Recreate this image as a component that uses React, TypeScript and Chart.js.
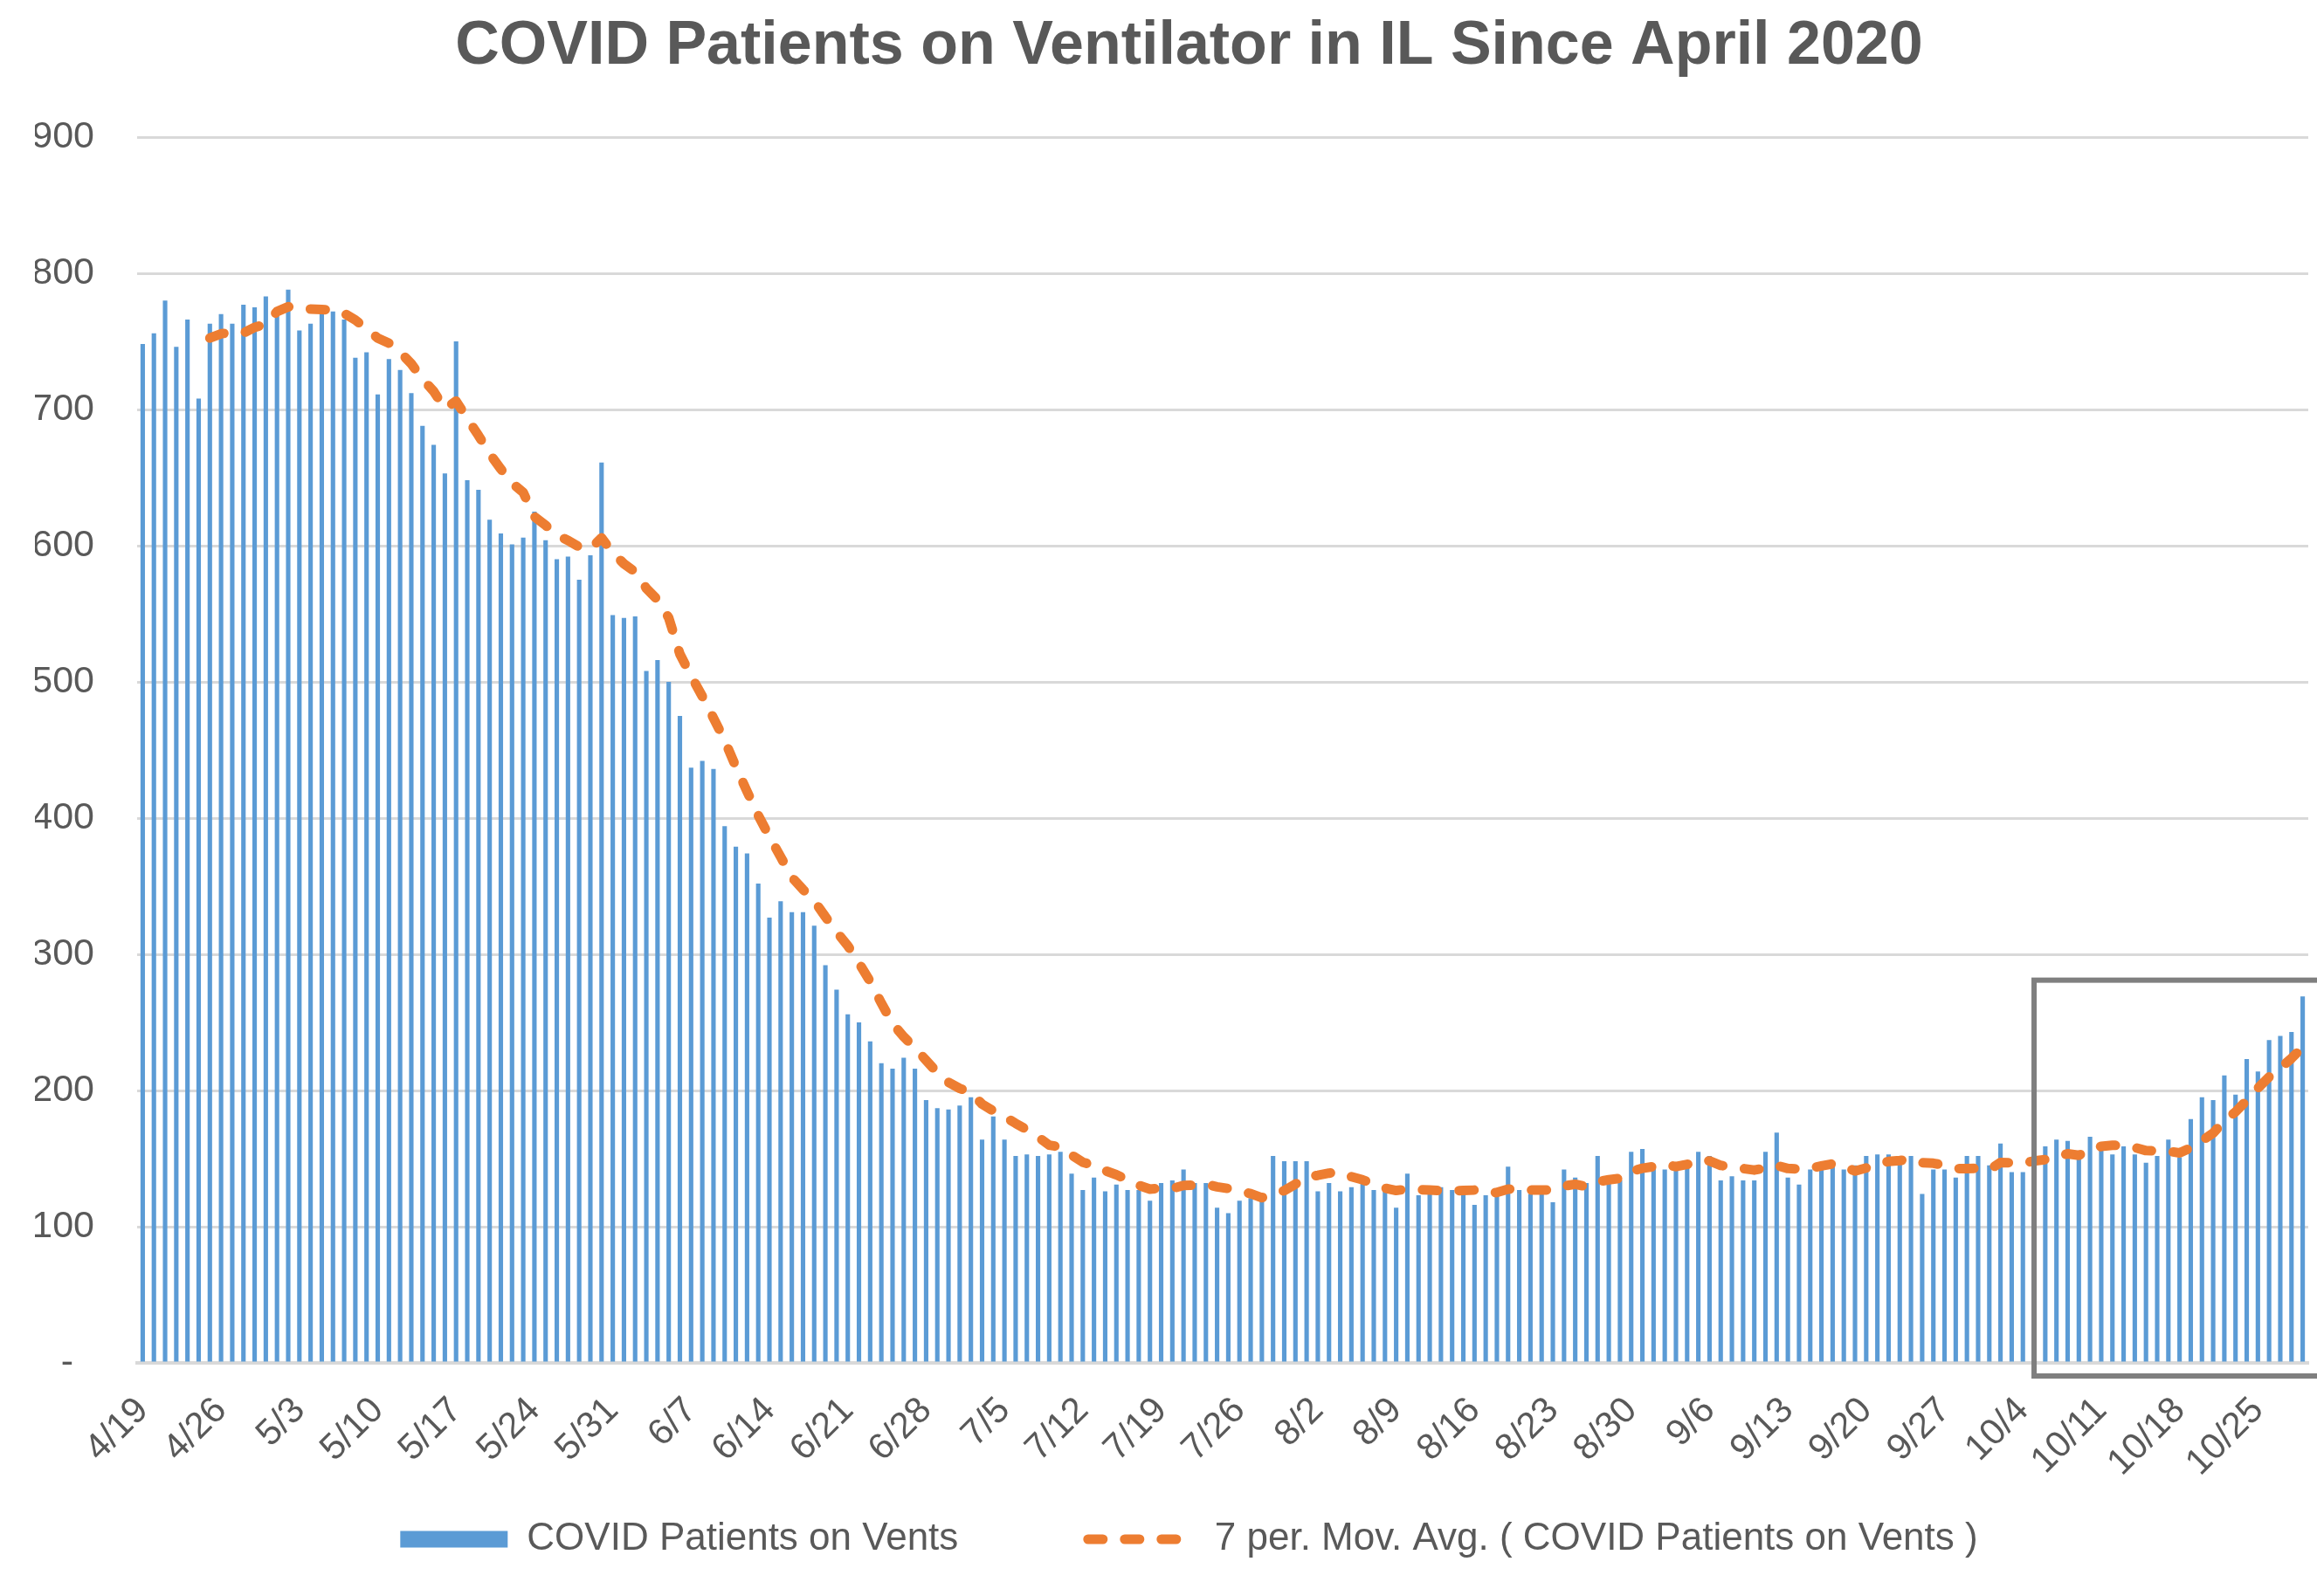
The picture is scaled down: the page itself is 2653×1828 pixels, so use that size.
import React, { useEffect, useRef } from "react";
import { Chart, registerables } from "chart.js";

Chart.register(...registerables);

// ---------- data ----------
const TITLE = "COVID Patients on Ventilator in IL Since April 2020";
const BAR_LABEL = "COVID Patients on Vents";
const LINE_LABEL = "7 per. Mov. Avg. ( COVID Patients on Vents )";

// weekly tick labels (every 7th day from 4/19)
const TICK_LABELS = [
  "4/19", "4/26", "5/3", "5/10", "5/17", "5/24", "5/31", "6/7", "6/14", "6/21",
  "6/28", "7/5", "7/12", "7/19", "7/26", "8/2", "8/9", "8/16", "8/23", "8/30",
  "9/6", "9/13", "9/20", "9/27", "10/4", "10/11", "10/18", "10/25",
];

// daily COVID patients on ventilators, 4/19 .. 10/29
const APRIL = [748, 756, 780, 746, 766, 708, 763, 770, 763, 777, 775, 783];
const MAY = [
  772, 788, 758, 763, 775, 772, 766, 738, 742, 711, 737, 729, 712, 688, 674, 653,
  750, 648, 641, 619, 609, 601, 606, 625, 604, 590, 592, 575, 593, 661, 549,
];
const JUNE = [
  547, 548, 508, 516, 500, 475, 437, 442, 436, 394, 379, 374, 352, 327, 339, 331,
  331, 321, 292, 274, 256, 250, 236, 220, 216, 224, 216, 193, 187, 186,
];
const JULY = [
  189, 195, 164, 181, 164, 152, 153, 152, 153, 155, 139, 127, 136, 126, 131, 127,
  127, 119, 132, 134, 142, 132, 132, 114, 110, 119, 121, 121, 152, 148, 148,
];
const AUGUST = [
  148, 126, 132, 126, 129, 132, 127, 126, 114, 139, 123, 127, 129, 127, 127, 116,
  123, 127, 144, 127, 124, 127, 118, 142, 136, 132, 152, 134, 134, 155, 157,
];
const SEPTEMBER = [
  145, 142, 142, 145, 155, 152, 134, 137, 134, 134, 155, 169, 136, 131, 142, 145,
  145, 142, 145, 152, 153, 153, 150, 152, 124, 142, 142, 136, 152, 152,
];
const OCTOBER = [
  145, 161, 140, 140, 148, 159, 164, 163, 153, 166, 160, 153, 159, 153, 147, 152,
  164, 151, 179, 195, 193, 211, 197, 223, 214, 237, 240, 243, 269,
];

const VENTS = [...APRIL, ...MAY, ...JUNE, ...JULY, ...AUGUST, ...SEPTEMBER, ...OCTOBER];
const MA_PERIOD = 7;
const TICK_EVERY = 7;
const Y_MIN = 0;
const Y_MAX = 900;
const Y_STEP = 100;

// highlight box (category index where it starts, value of its top edge)
const BOX_START_INDEX = 169;
const BOX_TOP_VALUE = 281;

// daily categories
const CATEGORIES = VENTS.map((_, i) => {
  const d = new Date(2020, 3, 19 + i);
  return `${d.getMonth() + 1}/${d.getDate()}`;
});

// Excel "7 per. Mov. Avg." trendline of the bar series
const MOVING_AVG = VENTS.map((_, i) =>
  i < MA_PERIOD - 1
    ? null
    : VENTS.slice(i - MA_PERIOD + 1, i + 1).reduce((a, b) => a + b, 0) / MA_PERIOD
);

// ---------- styles ----------
const BLUE = "#5B9BD5";
const ORANGE = "#ED7D31";
const TEXT = "#595959";
const GRID = "#D9D9D9";
const FONT = "'Liberation Sans', Arial, Helvetica, sans-serif";
const VIEW_W = 2653;
const CANVAS_W = 2683;
const CANVAS_H = 1828;
const PAD_LEFT = 40;
const Y_AXIS_W = 117;
const RIGHT_SPACER_W = 40;
const X_AXIS_H = 166;

const boxPlugin = {
  id: "highlightBox",
  afterDraw(chart: any) {
    const { ctx, chartArea, scales } = chart;
    const left = scales.x.getPixelForValue(BOX_START_INDEX);
    const top = scales.y.getPixelForValue(BOX_TOP_VALUE);
    const bottom = chartArea.bottom + 15;
    const right = chart.width + 20;
    ctx.save();
    ctx.strokeStyle = "#7F7F7F";
    ctx.lineWidth = 6;
    ctx.strokeRect(left, top, right - left, bottom - top);
    ctx.restore();
  },
};

export default function App() {
  const ref = useRef<HTMLCanvasElement | null>(null);

  useEffect(() => {
    document.body.style.margin = "0";
    document.body.style.overflow = "hidden";
    if (!ref.current) return;
    const chart = new Chart(ref.current, {
      type: "bar",
      data: {
        labels: CATEGORIES,
        datasets: [
          {
            type: "bar",
            label: BAR_LABEL,
            data: VENTS,
            backgroundColor: BLUE,
            borderWidth: 0,
            barPercentage: 0.4,
            categoryPercentage: 1.0,
            order: 2,
          },
          {
            type: "line",
            label: LINE_LABEL,
            data: MOVING_AVG,
            borderColor: ORANGE,
            backgroundColor: ORANGE,
            borderWidth: 11,
            borderDash: [17, 25],
            borderCapStyle: "round",
            borderJoinStyle: "round",
            pointRadius: 0,
            pointHoverRadius: 0,
            tension: 0,
            fill: false,
            spanGaps: false,
            order: 1,
          } as any,
        ],
      },
      options: {
        responsive: false,
        animation: false,
        devicePixelRatio: 1,
        layout: { padding: { left: PAD_LEFT, right: 0, top: 0, bottom: 33 } },
        plugins: {
          title: {
            display: true,
            text: TITLE,
            color: TEXT,
            font: { family: FONT, size: 70, weight: "bold" },
            padding: { top: 12, bottom: 61 },
          },
          legend: {
            position: "bottom",
            labels: {
              usePointStyle: true,
              pointStyleWidth: 123,
              boxHeight: 19,
              padding: 14,
              color: TEXT,
              font: { family: FONT, size: 44 },
              generateLabels: () => [
                {
                  text: BAR_LABEL + "           ",
                  fillStyle: BLUE,
                  strokeStyle: BLUE,
                  lineWidth: 0,
                  pointStyle: "rect",
                  hidden: false,
                  datasetIndex: 0,
                  fontColor: TEXT,
                } as any,
                {
                  text: LINE_LABEL,
                  fillStyle: "rgba(0,0,0,0)",
                  strokeStyle: ORANGE,
                  lineWidth: 11,
                  lineDash: [17, 25],
                  lineCap: "round",
                  pointStyle: "line",
                  hidden: false,
                  datasetIndex: 1,
                  fontColor: TEXT,
                } as any,
              ],
            },
          },
          tooltip: { enabled: false },
        },
        scales: {
          x: {
            grid: { display: false, drawTicks: false },
            border: { display: true, color: GRID, width: 4 },
            afterFit: (s: any) => {
              s.paddingLeft = 0;
              s.paddingRight = 0;
              s.height = X_AXIS_H;
            },
            ticks: {
              autoSkip: false,
              maxRotation: 45,
              minRotation: 45,
              padding: 30,
              color: TEXT,
              font: { family: FONT, size: 42 },
              callback: (_v: any, index: number) =>
                index % TICK_EVERY === 0 ? TICK_LABELS[index / TICK_EVERY] ?? "" : "",
            },
          },
          y: {
            min: Y_MIN,
            max: Y_MAX,
            grid: { color: GRID, lineWidth: 3, drawTicks: false },
            border: { display: false },
            afterFit: (s: any) => {
              s.width = Y_AXIS_W;
            },
            ticks: {
              stepSize: Y_STEP,
              padding: 49,
              color: TEXT,
              font: { family: FONT, size: 43 },
              callback: (v: any) => (Number(v) === 0 ? "-  " : String(v)),
            },
          },
          // empty spacer on the right so title and legend centre like the original
          spacer: {
            type: "linear",
            position: "right",
            display: true,
            grid: { display: false, drawTicks: false },
            border: { display: false },
            ticks: { display: false },
            afterFit: (s: any) => {
              s.width = RIGHT_SPACER_W;
            },
          },
        } as any,
      },
      plugins: [boxPlugin],
    });
    return () => chart.destroy();
  }, []);

  return (
    <div style={{ width: VIEW_W, height: CANVAS_H, overflow: "hidden", position: "relative", background: "#fff" }}>
      <canvas ref={ref} width={CANVAS_W} height={CANVAS_H} style={{ display: "block" }} />
    </div>
  );
}
